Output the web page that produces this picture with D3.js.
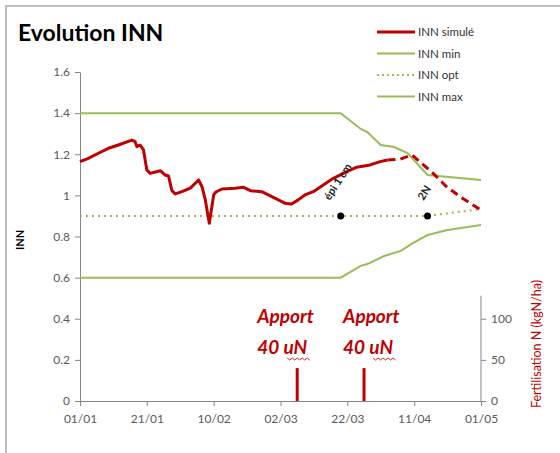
<!DOCTYPE html>
<html>
<head>
<meta charset="utf-8">
<script src="https://cdn.jsdelivr.net/npm/d3@7"></script>
<style>
  body { margin: 0; background: #fff; }
  svg { font-family: Lato, "Open Sans", sans-serif; }
</style>
</head>
<body>
<svg width="560" height="453"></svg>
<script>
// days counted from 01/01
let xTickDays = [0, 20, 40, 60, 80, 100, 120];
let xTickLabels = ["01/01", "21/01", "10/02", "02/03", "22/03", "11/04", "01/05"];
let yTicks = [0, 0.2, 0.4, 0.6, 0.8, 1, 1.2, 1.4, 1.6];
let y2Ticks = [0, 50, 100];

// INN simulé (solid part, then forecast dashed)
let simDays = [0, 2.5, 5.5, 8.5, 11.5, 15.5, 16.5, 17, 18, 19, 20, 21, 24, 25.5, 26.5, 27.5, 28.5, 30.5, 33, 35.5,
               36.5, 37.5, 38.7, 40, 40.7, 42.5, 46.4, 49, 51, 54.4, 57.4, 61.3, 63.3, 65.3, 67.3, 69.8, 72.8,
               75.8, 78.8, 82.8, 86.8, 89.8, 92];
let simValues = [1.164, 1.180, 1.205, 1.229, 1.245, 1.269, 1.261, 1.237, 1.245, 1.221, 1.124, 1.107, 1.120, 1.099,
                 1.094, 1.023, 1.007, 1.018, 1.035, 1.075, 1.042, 0.978, 0.864, 1.002, 1.017, 1.031, 1.035, 1.039,
                 1.023, 1.018, 0.994, 0.962, 0.958, 0.978, 1.002, 1.018, 1.051, 1.083, 1.107, 1.137, 1.148, 1.164, 1.172];
let prevDays = [92, 95.8, 99.3, 101.7, 105.7, 109.7, 113.7, 120];
let prevValues = [1.172, 1.176, 1.197, 1.164, 1.107, 1.042, 0.994, 0.929];

let maxDays = [0, 78, 84, 86, 90, 94, 98, 104, 120];
let maxValues = [1.4, 1.4, 1.323, 1.308, 1.245, 1.235, 1.206, 1.099, 1.075];
let minDays = [0, 78, 84, 86, 91, 96, 99.6, 104, 110, 120];
let minValues = [0.6, 0.6, 0.657, 0.666, 0.705, 0.73, 0.768, 0.807, 0.832, 0.856];
let optDays = [0, 104, 120];
let optValues = [0.9, 0.9, 0.934];

// stades
let stageDays = [78, 104];
let stageLabels = ["épi 1 cm", "2N"];

// apports d'azote (kgN/ha)
let apportDays = [65, 85];
let apportValues = [40, 40];

var svg = d3.select("svg"),
    width = +svg.attr("width"),
    height = +svg.attr("height");

var red = "#c00000", green = "#9bbb59", axisGrey = "#868686", textGrey = "#595959";

// frame
svg.append("path")
    .attr("d", "M6,460 V6 H570")
    .attr("fill", "none")
    .attr("stroke", "#bfbfbf")
    .attr("stroke-width", 2);

svg.append("text")
    .attr("x", 18).attr("y", 41)
    .attr("font-size", 23).attr("font-weight", "bold")
    .attr("fill", "#000")
    .text("Evolution INN");

let x = d3.scaleLinear().domain([0, 120]).range([80, 481]);
let y = d3.scaleLinear().domain([0, 1.6]).range([401, 72]);
let y2 = d3.scaleLinear().domain([0, 400]).range([401, 72]);

// axes
let xAxis = d3.axisBottom(x)
    .tickValues(xTickDays)
    .tickFormat((d, i) => xTickLabels[i])
    .tickSize(5).tickSizeOuter(0);
let gx = svg.append("g").attr("transform", "translate(0,401)").call(xAxis);

let yAxis = d3.axisLeft(y).tickValues(yTicks).tickFormat(d3.format("")).tickSize(5).tickSizeOuter(0);
let gy = svg.append("g").attr("transform", "translate(80,0)").call(yAxis);

let y2Axis = d3.axisRight(y2).tickValues(y2Ticks).tickSize(5).tickSizeOuter(0);
let gy2 = svg.append("g").attr("transform", "translate(481,0)").call(y2Axis);
gy2.select(".domain").attr("d", "M0," + y2(128) + "V" + y2(0));

[gx, gy, gy2].forEach(g => {
    g.select(".domain").attr("stroke", axisGrey);
    g.selectAll(".tick line").attr("stroke", axisGrey);
    g.selectAll(".tick text").attr("fill", textGrey).attr("font-size", 12).attr("font-family", "Lato, sans-serif");
});
gx.selectAll(".tick text").attr("dy", "1.2em");
gy.selectAll(".tick text").attr("x", -10);
gy2.selectAll(".tick text").attr("x", 10);

svg.append("text")
    .attr("transform", "translate(24,240) rotate(-90)")
    .attr("text-anchor", "middle")
    .attr("font-size", 11).attr("font-weight", "bold")
    .text("INN");

svg.append("text")
    .attr("transform", "translate(541,344) rotate(-90)")
    .attr("text-anchor", "middle")
    .attr("font-size", 12.5).attr("fill", red)
    .text("Fertilisation N (kgN/ha)");

// fertilisation bars
svg.append("g").selectAll("rect")
    .data(apportDays)
    .enter().append("rect")
    .attr("x", d => x(d) - 1.5)
    .attr("width", 3)
    .attr("y", (d, i) => y2(apportValues[i]))
    .attr("height", (d, i) => y2(0) - y2(apportValues[i]))
    .attr("fill", red);

let annOffsets = [-40, -21];
let ann = svg.append("g").selectAll("g")
    .data(apportDays)
    .enter().append("g")
    .attr("transform", (d, i) => "translate(" + (x(d) + annOffsets[i]) + ",0)");
ann.append("text").attr("y", 323).text("Apport");
ann.append("text").attr("y", 354).text((d, i) => apportValues[i] + " uN");
ann.selectAll("text")
    .attr("font-size", 19).attr("font-weight", "bold").attr("font-style", "italic")
    .attr("fill", red);
// spell-check squiggle under "uN"
ann.append("path")
    .attr("d", () => {
        let p = "M30,358";
        for (let k = 1; k <= 9; k++) p += " L" + (30 + k * 2.5) + "," + (k % 2 ? 360 : 358);
        return p;
    })
    .attr("fill", "none").attr("stroke", "#e02020").attr("stroke-width", 1);

// lines
let line = d3.line().x(d => x(d[0])).y(d => y(d[1]));
let zip = (a, b) => a.map((d, i) => [d, b[i]]);

svg.append("path").datum(zip(maxDays, maxValues))
    .attr("d", line).attr("fill", "none").attr("stroke", green).attr("stroke-width", 2);
svg.append("path").datum(zip(minDays, minValues))
    .attr("d", line).attr("fill", "none").attr("stroke", green).attr("stroke-width", 2);
svg.append("path").datum(zip(optDays, optValues))
    .attr("d", line).attr("fill", "none").attr("stroke", green).attr("stroke-width", 2)
    .attr("stroke-dasharray", "2,4");

svg.append("path").datum(zip(simDays, simValues))
    .attr("d", line).attr("fill", "none").attr("stroke", red).attr("stroke-width", 3)
    .attr("stroke-linejoin", "round");
svg.append("path").datum(zip(prevDays, prevValues))
    .attr("d", line).attr("fill", "none").attr("stroke", red).attr("stroke-width", 3)
    .attr("stroke-dasharray", "8,5");

// stage markers
let stageOffsets = [-11, -4];
let stages = svg.append("g").selectAll("g")
    .data(stageDays)
    .enter().append("g");
stages.append("circle")
    .attr("cx", d => x(d)).attr("cy", y(0.9)).attr("r", 3.5).attr("fill", "#000");
stages.append("text")
    .attr("transform", (d, i) => "translate(" + (x(d) + stageOffsets[i]) + ",201) rotate(-57)")
    .attr("font-size", 11).attr("font-weight", "bold").attr("fill", "#222")
    .text((d, i) => stageLabels[i]);

// legend
let legendNames = ["INN simulé", "INN min", "INN opt", "INN max"];
let legendColors = [red, green, green, green];
let legendWidths = [3, 2, 2, 2];
let legendDash = [null, null, "2,3", null];
let lg = svg.append("g").selectAll("g")
    .data(legendNames)
    .enter().append("g")
    .attr("transform", (d, i) => "translate(0," + (32 + i * 21.5) + ")");
lg.append("line")
    .attr("x1", 377).attr("x2", 415)
    .attr("stroke", (d, i) => legendColors[i])
    .attr("stroke-width", (d, i) => legendWidths[i])
    .attr("stroke-dasharray", (d, i) => legendDash[i]);
lg.append("text")
    .attr("x", 418).attr("dy", "0.35em")
    .attr("font-size", 11.5).attr("fill", "#333")
    .text(d => d);
</script>
</body>
</html>
